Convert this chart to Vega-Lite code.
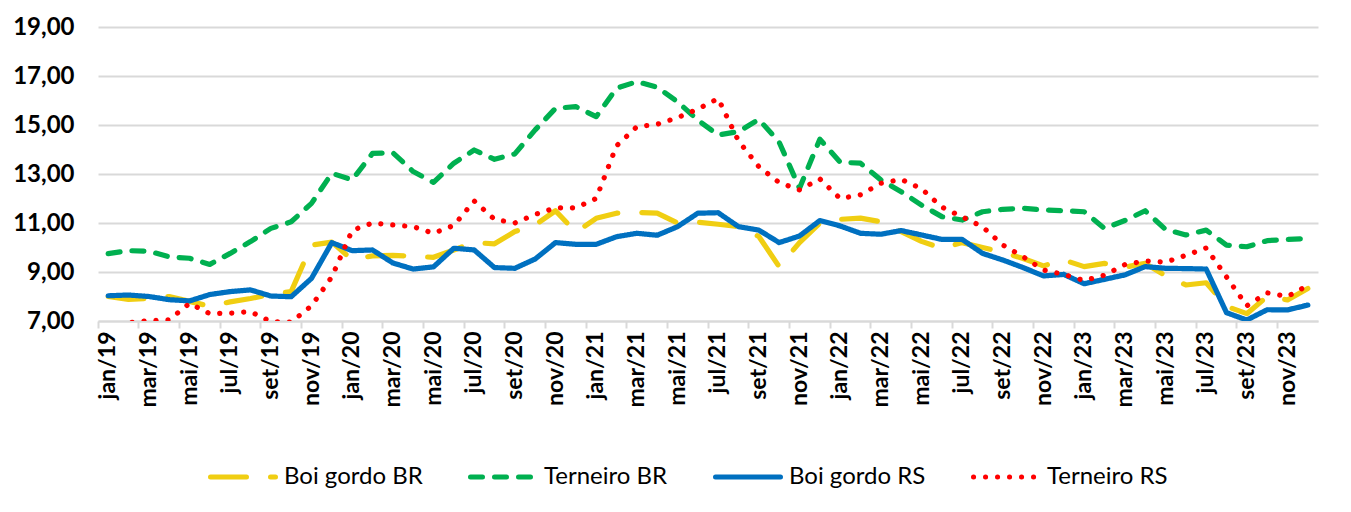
{
  "$schema": "https://vega.github.io/schema/vega-lite/v6.json",
  "width": 1220,
  "height": 294,
  "autosize": {"type": "none"},
  "padding": {"left": 98, "top": 27, "right": 33, "bottom": 191},
  "background": "white",
  "config": {"view": {"stroke": null}, "font": "Lato"},
  "data": {"values": [
    {"m":"jan/19","Boi gordo BR":8.0,"Terneiro BR":9.75,"Boi gordo RS":8.03,"Terneiro RS":6.85},
    {"m":"fev/19","Boi gordo BR":7.88,"Terneiro BR":9.87,"Boi gordo RS":8.06,"Terneiro RS":6.93},
    {"m":"mar/19","Boi gordo BR":7.92,"Terneiro BR":9.85,"Boi gordo RS":8.0,"Terneiro RS":7.02},
    {"m":"abr/19","Boi gordo BR":8.0,"Terneiro BR":9.62,"Boi gordo RS":7.87,"Terneiro RS":7.05},
    {"m":"mai/19","Boi gordo BR":7.8,"Terneiro BR":9.56,"Boi gordo RS":7.82,"Terneiro RS":7.72},
    {"m":"jun/19","Boi gordo BR":7.6,"Terneiro BR":9.31,"Boi gordo RS":8.08,"Terneiro RS":7.3},
    {"m":"jul/19","Boi gordo BR":7.78,"Terneiro BR":9.76,"Boi gordo RS":8.2,"Terneiro RS":7.32},
    {"m":"ago/19","Boi gordo BR":7.92,"Terneiro BR":10.24,"Boi gordo RS":8.27,"Terneiro RS":7.38},
    {"m":"set/19","Boi gordo BR":8.08,"Terneiro BR":10.78,"Boi gordo RS":8.02,"Terneiro RS":6.98},
    {"m":"out/19","Boi gordo BR":8.2,"Terneiro BR":11.05,"Boi gordo RS":7.99,"Terneiro RS":6.95},
    {"m":"nov/19","Boi gordo BR":10.1,"Terneiro BR":11.8,"Boi gordo RS":8.74,"Terneiro RS":7.62},
    {"m":"dez/19","Boi gordo BR":10.22,"Terneiro BR":13.03,"Boi gordo RS":10.2,"Terneiro RS":8.8},
    {"m":"jan/20","Boi gordo BR":9.5,"Terneiro BR":12.76,"Boi gordo RS":9.87,"Terneiro RS":10.7},
    {"m":"fev/20","Boi gordo BR":9.66,"Terneiro BR":13.84,"Boi gordo RS":9.9,"Terneiro RS":11.0},
    {"m":"mar/20","Boi gordo BR":9.68,"Terneiro BR":13.87,"Boi gordo RS":9.37,"Terneiro RS":10.92},
    {"m":"abr/20","Boi gordo BR":9.64,"Terneiro BR":13.1,"Boi gordo RS":9.12,"Terneiro RS":10.85},
    {"m":"mai/20","Boi gordo BR":9.6,"Terneiro BR":12.66,"Boi gordo RS":9.21,"Terneiro RS":10.58},
    {"m":"jun/20","Boi gordo BR":9.9,"Terneiro BR":13.44,"Boi gordo RS":9.97,"Terneiro RS":10.9},
    {"m":"jul/20","Boi gordo BR":10.2,"Terneiro BR":13.98,"Boi gordo RS":9.9,"Terneiro RS":11.9},
    {"m":"ago/20","Boi gordo BR":10.15,"Terneiro BR":13.6,"Boi gordo RS":9.18,"Terneiro RS":11.15},
    {"m":"set/20","Boi gordo BR":10.65,"Terneiro BR":13.82,"Boi gordo RS":9.15,"Terneiro RS":11.0},
    {"m":"out/20","Boi gordo BR":10.92,"Terneiro BR":14.8,"Boi gordo RS":9.53,"Terneiro RS":11.35},
    {"m":"nov/20","Boi gordo BR":11.5,"Terneiro BR":15.68,"Boi gordo RS":10.2,"Terneiro RS":11.62},
    {"m":"dez/20","Boi gordo BR":10.62,"Terneiro BR":15.75,"Boi gordo RS":10.13,"Terneiro RS":11.62},
    {"m":"jan/21","Boi gordo BR":11.19,"Terneiro BR":15.34,"Boi gordo RS":10.13,"Terneiro RS":12.0},
    {"m":"fev/21","Boi gordo BR":11.4,"Terneiro BR":16.5,"Boi gordo RS":10.44,"Terneiro RS":14.15},
    {"m":"mar/21","Boi gordo BR":11.43,"Terneiro BR":16.77,"Boi gordo RS":10.58,"Terneiro RS":14.93},
    {"m":"abr/21","Boi gordo BR":11.4,"Terneiro BR":16.54,"Boi gordo RS":10.5,"Terneiro RS":15.03},
    {"m":"mai/21","Boi gordo BR":11.0,"Terneiro BR":15.95,"Boi gordo RS":10.85,"Terneiro RS":15.3},
    {"m":"jun/21","Boi gordo BR":11.03,"Terneiro BR":15.2,"Boi gordo RS":11.4,"Terneiro RS":15.65},
    {"m":"jul/21","Boi gordo BR":10.95,"Terneiro BR":14.59,"Boi gordo RS":11.42,"Terneiro RS":16.08},
    {"m":"ago/21","Boi gordo BR":10.85,"Terneiro BR":14.73,"Boi gordo RS":10.85,"Terneiro RS":14.35},
    {"m":"set/21","Boi gordo BR":10.45,"Terneiro BR":15.23,"Boi gordo RS":10.71,"Terneiro RS":13.3},
    {"m":"out/21","Boi gordo BR":9.22,"Terneiro BR":14.3,"Boi gordo RS":10.2,"Terneiro RS":12.65},
    {"m":"nov/21","Boi gordo BR":10.2,"Terneiro BR":12.42,"Boi gordo RS":10.47,"Terneiro RS":12.35},
    {"m":"dez/21","Boi gordo BR":11.0,"Terneiro BR":14.42,"Boi gordo RS":11.1,"Terneiro RS":12.8},
    {"m":"jan/22","Boi gordo BR":11.15,"Terneiro BR":13.48,"Boi gordo RS":10.88,"Terneiro RS":12.0},
    {"m":"fev/22","Boi gordo BR":11.2,"Terneiro BR":13.44,"Boi gordo RS":10.58,"Terneiro RS":12.15},
    {"m":"mar/22","Boi gordo BR":11.05,"Terneiro BR":12.76,"Boi gordo RS":10.54,"Terneiro RS":12.62},
    {"m":"abr/22","Boi gordo BR":10.65,"Terneiro BR":12.28,"Boi gordo RS":10.69,"Terneiro RS":12.78},
    {"m":"mai/22","Boi gordo BR":10.25,"Terneiro BR":11.73,"Boi gordo RS":10.51,"Terneiro RS":12.4},
    {"m":"jun/22","Boi gordo BR":9.97,"Terneiro BR":11.26,"Boi gordo RS":10.33,"Terneiro RS":11.65},
    {"m":"jul/22","Boi gordo BR":10.2,"Terneiro BR":11.12,"Boi gordo RS":10.33,"Terneiro RS":11.25},
    {"m":"ago/22","Boi gordo BR":10.0,"Terneiro BR":11.46,"Boi gordo RS":9.76,"Terneiro RS":10.85},
    {"m":"set/22","Boi gordo BR":9.8,"Terneiro BR":11.56,"Boi gordo RS":9.49,"Terneiro RS":10.1},
    {"m":"out/22","Boi gordo BR":9.55,"Terneiro BR":11.6,"Boi gordo RS":9.18,"Terneiro RS":9.62},
    {"m":"nov/22","Boi gordo BR":9.25,"Terneiro BR":11.53,"Boi gordo RS":8.84,"Terneiro RS":9.08},
    {"m":"dez/22","Boi gordo BR":9.49,"Terneiro BR":11.5,"Boi gordo RS":8.9,"Terneiro RS":8.9},
    {"m":"jan/23","Boi gordo BR":9.22,"Terneiro BR":11.46,"Boi gordo RS":8.52,"Terneiro RS":8.65},
    {"m":"fev/23","Boi gordo BR":9.35,"Terneiro BR":10.78,"Boi gordo RS":8.7,"Terneiro RS":8.87},
    {"m":"mar/23","Boi gordo BR":9.2,"Terneiro BR":11.1,"Boi gordo RS":8.88,"Terneiro RS":9.3},
    {"m":"abr/23","Boi gordo BR":9.35,"Terneiro BR":11.5,"Boi gordo RS":9.22,"Terneiro RS":9.45},
    {"m":"mai/23","Boi gordo BR":8.85,"Terneiro BR":10.74,"Boi gordo RS":9.15,"Terneiro RS":9.4},
    {"m":"jun/23","Boi gordo BR":8.47,"Terneiro BR":10.51,"Boi gordo RS":9.14,"Terneiro RS":9.68},
    {"m":"jul/23","Boi gordo BR":8.56,"Terneiro BR":10.71,"Boi gordo RS":9.12,"Terneiro RS":9.98},
    {"m":"ago/23","Boi gordo BR":7.6,"Terneiro BR":10.1,"Boi gordo RS":7.34,"Terneiro RS":8.8},
    {"m":"set/23","Boi gordo BR":7.3,"Terneiro BR":10.03,"Boi gordo RS":7.04,"Terneiro RS":7.62},
    {"m":"out/23","Boi gordo BR":8.0,"Terneiro BR":10.28,"Boi gordo RS":7.46,"Terneiro RS":8.15},
    {"m":"nov/23","Boi gordo BR":7.86,"Terneiro BR":10.33,"Boi gordo RS":7.45,"Terneiro RS":8.0},
    {"m":"dez/23","Boi gordo BR":8.33,"Terneiro BR":10.36,"Boi gordo RS":7.65,"Terneiro RS":8.45}
  ]},
  "transform": [
    {"fold": ["Boi gordo BR", "Terneiro BR", "Boi gordo RS", "Terneiro RS"], "as": ["serie", "valor"]}
  ],
  "mark": {"type": "line", "strokeCap": "round", "strokeJoin": "round", "strokeWidth": 5.2, "clip": true},
  "encoding": {
    "x": {
      "field": "m", "type": "ordinal", "sort": null, "bandPosition": 0.5,
      "scale": {"type": "band", "paddingInner": 0, "paddingOuter": 0},
      "axis": {
        "values": ["jan/19","mar/19","mai/19","jul/19","set/19","nov/19","jan/20","mar/20","mai/20","jul/20","set/20","nov/20","jan/21","mar/21","mai/21","jul/21","set/21","nov/21","jan/22","mar/22","mai/22","jul/22","set/22","nov/22","jan/23","mar/23","mai/23","jul/23","set/23","nov/23"],
        "bandPosition": 0,
        "title": null,
        "grid": false,
        "labelAngle": -90,
        "labelAlign": "right",
        "labelBaseline": "middle",
        "labelFont": "Lato",
        "labelFontWeight": "bold",
        "labelFontSize": 23,
        "labelColor": "#000000",
        "labelPadding": 3,
        "tickSize": 7,
        "tickWidth": 2,
        "tickColor": "#d9d9d9",
        "domainColor": "#d9d9d9",
        "domainWidth": 2
      }
    },
    "y": {
      "field": "valor", "type": "quantitative",
      "scale": {"domain": [7, 19], "nice": false, "zero": false},
      "axis": {
        "values": [7, 9, 11, 13, 15, 17, 19],
        "labelExpr": "replace(format(datum.value, '.2f'), '.', ',')",
        "title": null,
        "ticks": false,
        "domain": false,
        "labelFont": "Lato",
        "labelFontWeight": "bold",
        "labelFontSize": 24,
        "labelColor": "#000000",
        "labelPadding": 24,
        "gridColor": "#d9d9d9",
        "gridWidth": 2
      }
    },
    "color": {
      "field": "serie", "type": "nominal",
      "scale": {"domain": ["Boi gordo BR", "Terneiro BR", "Boi gordo RS", "Terneiro RS"], "range": ["#F0CE12", "#00B050", "#0070C0", "#FF0000"]},
      "legend": {
        "title": null,
        "orient": "none",
        "legendX": 110,
        "legendY": 415,
        "direction": "horizontal",
        "symbolType": "stroke",
        "symbolSize": 4225,
        "symbolStrokeWidth": 5,
        "labelFont": "Lato",
        "labelFontSize": 24,
        "labelColor": "#000000",
        "labelOffset": 6,
        "columnPadding": 37,
        "encode": {"symbols": {"update": {"strokeCap": {"value": "round"}}}}
      }
    },
    "strokeDash": {
      "field": "serie", "type": "nominal",
      "scale": {"domain": ["Boi gordo BR", "Terneiro BR", "Boi gordo RS", "Terneiro RS"], "range": [[36, 24], [12, 12], [1, 0], [0.1, 11.9]]},
      "legend": {"title": null}
    }
  }
}
